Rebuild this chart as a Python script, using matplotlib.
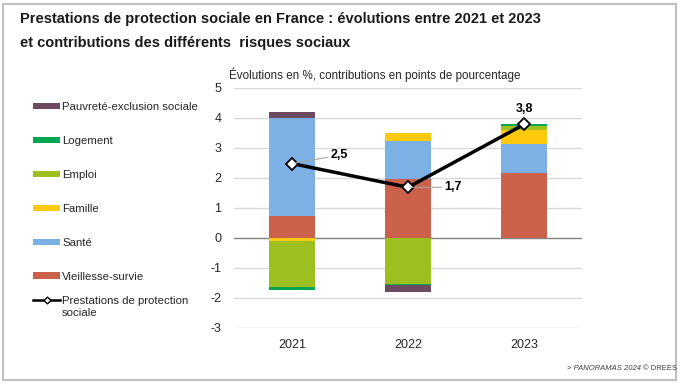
import numpy as np
import matplotlib
matplotlib.use("Agg")
import matplotlib.pyplot as plt
from matplotlib.patches import Rectangle, Patch
from matplotlib.lines import Line2D
from matplotlib import font_manager as fm

years = ["2021", "2022", "2023"]
vieillesse = [0.71, 1.97, 2.17]
sante = [3.27, 1.24, 0.94]
famille = [-0.10, 0.26, 0.48]
emploi = [-1.55, -1.52, 0.13]
logement = [-0.08, -0.06, 0.06]
pauvrete = [0.22, -0.21, 0.00]
total = [2.47, 1.68, 3.77]
total_labels = ["2,5", "1,7", "3,8"]

series = [
    ("Vieillesse-survie", vieillesse, "#CC614B"),
    ("Santé", sante, "#7DB1E6"),
    ("Famille", famille, "#FFC90E"),
    ("Emploi", emploi, "#9DBF1F"),
    ("Logement", logement, "#00A651"),
    ("Pauvreté-exclusion sociale", pauvrete, "#6E4A60"),
]

names = {f.name for f in fm.fontManager.ttflist}
base = "Liberation Sans" if "Liberation Sans" in names else "DejaVu Sans"
plt.rcParams["font.family"] = [base, "DejaVu Sans"]
plt.rcParams["axes.unicode_minus"] = False

W, H = 680, 384
fig = plt.figure(figsize=(W / 100, H / 100), dpi=100)
ax = fig.add_axes([234 / W, 1 - 328 / H, (582 - 234) / W, (328 - 87.5) / H])

x = np.arange(len(years))
pos_bottom = np.zeros(len(years))
neg_bottom = np.zeros(len(years))
for name, vals, col in series:
    v = np.array(vals, dtype=float)
    bottom = np.where(v >= 0, pos_bottom, neg_bottom)
    ax.bar(x, v, width=0.4, bottom=bottom, color=col, zorder=2, linewidth=0)
    pos_bottom += np.where(v >= 0, v, 0)
    neg_bottom += np.where(v < 0, v, 0)

ax.plot(x, total, color="black", lw=2.5, marker="D", markersize=6,
        markerfacecolor="white", markeredgecolor="black", markeredgewidth=1.3, zorder=4)

offsets = [(28, 6), (26, 0), (0, 7)]
for i, (lab, off) in enumerate(zip(total_labels, offsets)):
    if off[0] != 0:
        ax.annotate(lab, xy=(x[i], total[i]), xytext=off, textcoords="offset points",
                    ha="left", va="center", fontsize=9, fontweight="bold",
                    arrowprops=dict(arrowstyle="-", color="#A6A6A6", lw=0.8,
                                    shrinkA=0, shrinkB=2), zorder=5)
    else:
        ax.annotate(lab, xy=(x[i], total[i]), xytext=off, textcoords="offset points",
                    ha="center", va="bottom", fontsize=9, fontweight="bold", zorder=5)

ax.set_xlim(-0.5, 2.5)
ax.set_ylim(-3, 5)
ax.set_yticks(range(-3, 6))
ax.set_xticks(x)
ax.set_xticklabels(years)
ax.tick_params(length=0, labelsize=9, colors="#262626", pad=9)
ax.tick_params(axis="x", pad=8)
for s in ax.spines.values():
    s.set_visible(False)
for yv in range(-3, 6):
    ax.axhline(yv, color="#808080" if yv == 0 else "#D9D9D9", lw=1, zorder=1)

# legend: bar series
handles = []
for name, vals, col in series[::-1]:
    handles.append(Patch(facecolor=col, edgecolor="none", label=name))
leg_kw = dict(frameon=False, fontsize=8.2, handlelength=2.4, handleheight=0.45,
              handletextpad=0.15, borderaxespad=0, borderpad=0)
leg1 = fig.legend(handles=handles, loc="upper left", bbox_to_anchor=(33 / W, 1 - 102 / H),
                  labelspacing=2.1, **leg_kw)
# legend: line series (handle aligned with first text line)
line_h = Line2D([0], [0], color="black", lw=1.8, marker="D", markersize=3.5,
                markerfacecolor="white", markeredgecolor="black",
                label="Prestations de protection")
leg2 = fig.legend(handles=[line_h], loc="center left", bbox_to_anchor=(33 / W, 1 - 301 / H),
                  **leg_kw)
for lg in (leg1, leg2):
    for t in lg.get_texts():
        t.set_color("#262626")
fig.canvas.draw()
bb = leg2.get_texts()[0].get_window_extent()
fig.text(bb.x0 / W, (bb.y0 - 2) / H, "sociale", fontsize=8.2, color="#262626",
         ha="left", va="top")

fig.text(20 / W, 1 - 12 / H, "Prestations de protection sociale en France : évolutions entre 2021 et 2023\net contributions des différents  risques sociaux",
         fontsize=10.5, fontweight="bold", va="top", ha="left",
         linespacing=1.9, color="#1a1a1a")
fig.text(229 / W, 1 - 75 / H, "Évolutions en %, contributions en points de pourcentage",
         fontsize=8.4, ha="left", va="center", color="#262626")
fig.text(643 / W, 1 - 368 / H, "© DREES", fontsize=5.5, ha="left", va="center", color="#404040")
fig.text(641 / W, 1 - 368 / H, "> PANORAMAS 2024", fontsize=5.5, style="italic",
         ha="right", va="center", color="#404040")

fig.patches.append(Rectangle((3 / W, 4 / H), (676 - 3) / W, (380 - 4) / H,
                             transform=fig.transFigure, fill=False,
                             edgecolor="#BFBFBF", lw=1.5))

fig.savefig("out.png", dpi=100)
